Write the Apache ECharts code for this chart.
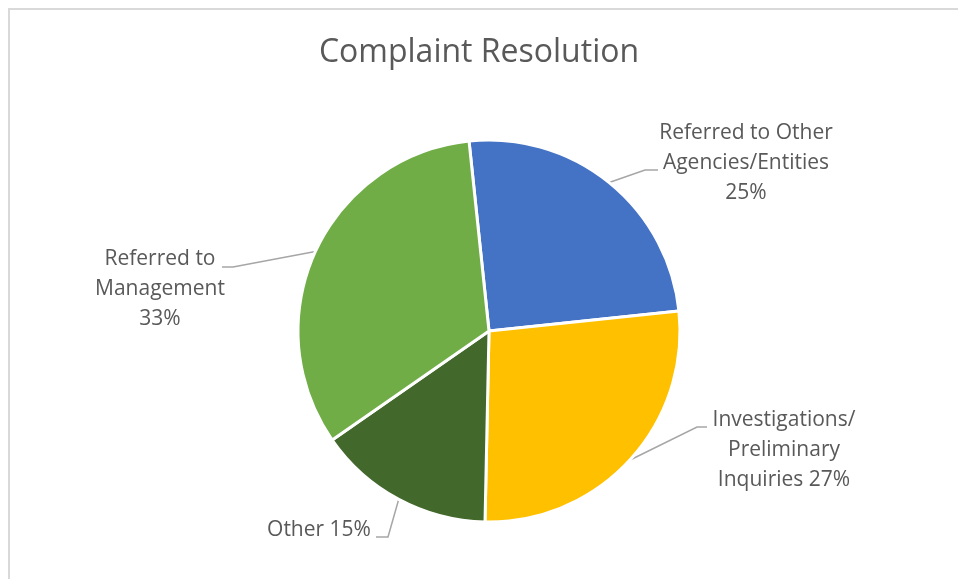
<!DOCTYPE html>
<html>
<head>
<meta charset="utf-8">
<script src="https://cdn.jsdelivr.net/npm/echarts@6/dist/echarts.min.js"></script>
<style>
html,body{margin:0;padding:0;background:#fff;}
#chart{width:958px;height:579px;}
</style>
</head>
<body>
<div id="chart"></div>
<script>
// ---- data ----
const categories = [
  'Referred to Other Agencies/Entities',
  'Investigations/Preliminary Inquiries',
  'Other',
  'Referred to Management'
];
const values = [25, 27, 15, 33];
const labelTemplates = [
  'Referred to Other\nAgencies/Entities\n{p}%',
  'Investigations/\nPreliminary\nInquiries {p}%',
  'Other {p}%',
  'Referred to\nManagement\n{p}%'
];
const colors = ['#4472C4', '#FFC000', '#43682B', '#70AD47'];

// ---- label layout (positions of label blocks and label-line elbows) ----
const labelLayouts = [
  { x: 746, y: 163, mid: [645, 170], end: [658, 170] },
  { x: 784, y: 450, mid: [697, 427], end: [707, 427] },
  { x: 319, y: 530, mid: [388, 537], end: [376, 537] },
  { x: 160, y: 289, mid: [233, 267], end: [222, 267] }
];

const FONT = 'Open Sans';
const chart = echarts.init(document.getElementById('chart'));
chart.setOption({
  animation: false,
  backgroundColor: '#fff',
  title: {
    text: 'Complaint Resolution',
    left: 'center',
    top: 32,
    textStyle: { fontFamily: FONT, fontSize: 32, fontWeight: 'normal', color: '#595959' }
  },
  graphic: [{
    type: 'rect',
    shape: { x: 9, y: 9, width: 1200, height: 1200 },
    style: { fill: 'none', stroke: '#d9d9d9', lineWidth: 2 },
    silent: true
  }],
  series: [{
    type: 'pie',
    center: [489, 331],
    radius: 191,
    startAngle: 96,
    clockwise: true,
    percentPrecision: 0,
    data: categories.map((n, i) => ({ name: n, value: values[i], itemStyle: { color: colors[i] } })),
    itemStyle: { borderColor: '#fff', borderWidth: 3 },
    label: {
      show: true,
      position: 'outside',
      fontFamily: FONT,
      fontSize: 21,
      lineHeight: 30,
      color: '#595959',
      align: 'center',
      formatter: p => labelTemplates[p.dataIndex].replace('{p}', Math.round(p.percent))
    },
    labelLine: {
      show: true,
      length: 20,
      length2: 10,
      lineStyle: { color: '#a6a6a6', width: 1.5 }
    },
    labelLayout: function (params) {
      const L = labelLayouts[params.dataIndex];
      const p0 = params.labelLinePoints ? params.labelLinePoints[0] : L.mid;
      return {
        x: L.x, y: L.y, align: 'center', verticalAlign: 'middle',
        labelLinePoints: [p0, L.mid, L.end]
      };
    },
    emphasis: { disabled: true }
  }]
});
</script>
</body>
</html>
